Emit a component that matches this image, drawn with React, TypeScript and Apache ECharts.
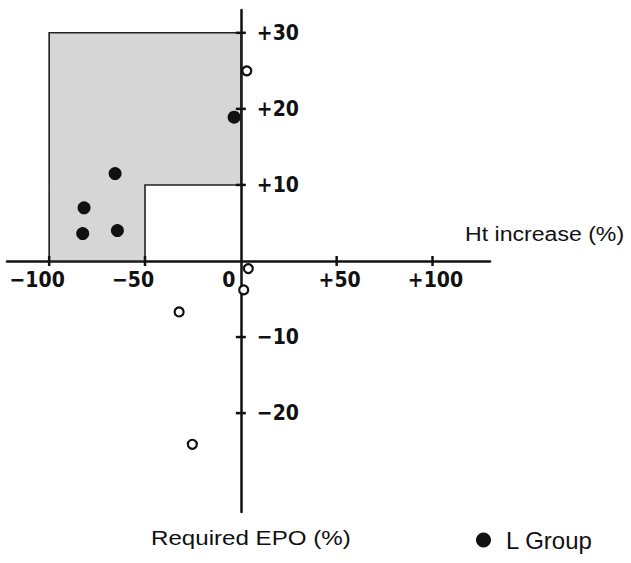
import React, { useEffect, useRef } from 'react';
import * as echarts from 'echarts';

// Tick / label values
const xLabelValues = [-100, -50, 0, 50, 100];
const xTickValues = [-100, -50, 50, 100];
const yTickValues = [-20, -10, 10, 20, 30];

// L Group (filled dots)
const lGroupX = [-3.5, -65.6, -81.8, -82.5, -64.4];
const lGroupY = [18.9, 11.5, 7.0, 3.6, 4.0];

// Other patients (open circles)
const otherX = [3.1, 3.9, 1.5, -32.2, -25.3];
const otherY = [25.0, -1.0, -3.8, -6.7, -24.1];

// Shaded L-shaped region vertices
const regionX = [-100, -100, 0, 0, -50, -50];
const regionY = [0, 30, 30, 10, 10, 0];

const tickFont = "'DejaVu Sans Condensed', 'DejaVu Sans', sans-serif";
const textFont = "'Liberation Sans', Arial, sans-serif";

const fmt = (v: number) => (v > 0 ? '+' + v : v < 0 ? '\u2212' + Math.abs(v) : '0');

export default function App() {
  const ref = useRef<HTMLDivElement>(null);
  useEffect(() => {
    if (!ref.current) return;
    const chart = echarts.init(ref.current, null, { renderer: 'svg' });
    const labelStyle = {
      fontFamily: tickFont,
      fontWeight: 'bold' as const,
      fontSize: 21,
      color: '#111',
    };
    chart.setOption({
      animation: false,
      backgroundColor: '#fff',
      grid: { left: 7, right: 141, top: 10, bottom: 51, containLabel: false },
      xAxis: {
        type: 'value',
        min: -122,
        max: 130,
        position: 'bottom',
        axisLine: { show: true, onZero: true, lineStyle: { color: '#111', width: 2.5 } },
        axisTick: { show: false },
        splitLine: { show: false },
        axisLabel: { show: false },
      },
      yAxis: {
        type: 'value',
        min: -33,
        max: 33,
        position: 'right',
        axisLine: { show: true, onZero: true, lineStyle: { color: '#111', width: 2.5 } },
        axisTick: { show: false },
        splitLine: { show: false },
        axisLabel: { show: false },
      },
      legend: {
        data: ['L Group'],
        left: 471,
        top: 523,
        icon: 'circle',
        itemWidth: 15,
        itemHeight: 15,
        itemGap: 10,
        textStyle: { fontFamily: textFont, fontSize: 24, color: '#111', padding: [0, 0, 0, 10] },
      },
      graphic: [
        {
          type: 'text',
          x: 465,
          y: 234,
          scaleX: 1.1,
          style: {
            text: 'Ht increase (%)',
            font: '21px ' + textFont,
            fill: '#111',
            textAlign: 'left',
            textVerticalAlign: 'middle',
          },
        },
        {
          type: 'text',
          x: 151,
          y: 538,
          scaleX: 1.15,
          style: {
            text: 'Required EPO (%)',
            font: '21px ' + textFont,
            fill: '#111',
            textAlign: 'left',
            textVerticalAlign: 'middle',
          },
        },
      ],
      series: [
        {
          type: 'custom',
          name: 'region',
          silent: true,
          z: 1,
          data: [[-50, 20]],
          renderItem: (_params: any, api: any) => {
            const points = regionX.map((x, i) => api.coord([x, regionY[i]]));
            return {
              type: 'polygon',
              shape: { points },
              style: { fill: '#d6d6d6', stroke: '#222', lineWidth: 1.6 },
            };
          },
        },
        {
          type: 'scatter',
          name: 'xticks',
          silent: true,
          z: 3,
          symbol: 'rect',
          symbolSize: [2.5, 10],
          itemStyle: { color: '#111', opacity: 1 },
          data: xTickValues.map((v) => [v, 0]),
        },
        {
          type: 'scatter',
          name: 'yticks',
          silent: true,
          z: 3,
          symbol: 'rect',
          symbolSize: [10, 2.5],
          itemStyle: { color: '#111', opacity: 1 },
          data: yTickValues.map((v) => [0, v]),
        },
        {
          type: 'scatter',
          name: 'xlabels',
          silent: true,
          z: 3,
          symbolSize: 0,
          itemStyle: { color: '#111', opacity: 1 },
          data: xLabelValues.map((v) => [v, 0]),
          label: {
            show: true,
            position: 'bottom',
            distance: 8,
            ...labelStyle,
            formatter: (p: any) => {
              const v = p.value[0];
              return v <= 0 ? '{n|' + fmt(v) + '}' : '{p|' + fmt(v) + '}';
            },
            rich: {
              n: { ...labelStyle, padding: [0, 24, 0, 0] },
              p: { ...labelStyle, padding: [0, 0, 0, 6] },
            },
          },
        },
        {
          type: 'scatter',
          name: 'ylabels',
          silent: true,
          z: 3,
          symbolSize: 0,
          itemStyle: { color: '#111', opacity: 1 },
          data: yTickValues.map((v) => [0, v]),
          label: {
            show: true,
            position: 'right',
            distance: 16,
            ...labelStyle,
            formatter: (p: any) => fmt(p.value[1]),
          },
        },
        {
          type: 'scatter',
          name: 'Other',
          z: 4,
          symbol: 'circle',
          symbolSize: 9,
          itemStyle: { color: '#fff', borderColor: '#111', borderWidth: 2.2, opacity: 1 },
          data: otherX.map((x, i) => [x, otherY[i]]),
        },
        {
          type: 'scatter',
          name: 'L Group',
          z: 4,
          symbol: 'circle',
          symbolSize: 13,
          itemStyle: { color: '#111', opacity: 1 },
          data: lGroupX.map((x, i) => [x, lGroupY[i]]),
        },
      ],
    });
    return () => chart.dispose();
  }, []);
  return (
    <div
      ref={ref}
      style={{ position: 'fixed', left: 0, top: 0, width: 631, height: 563, background: '#fff' }}
    />
  );
}
